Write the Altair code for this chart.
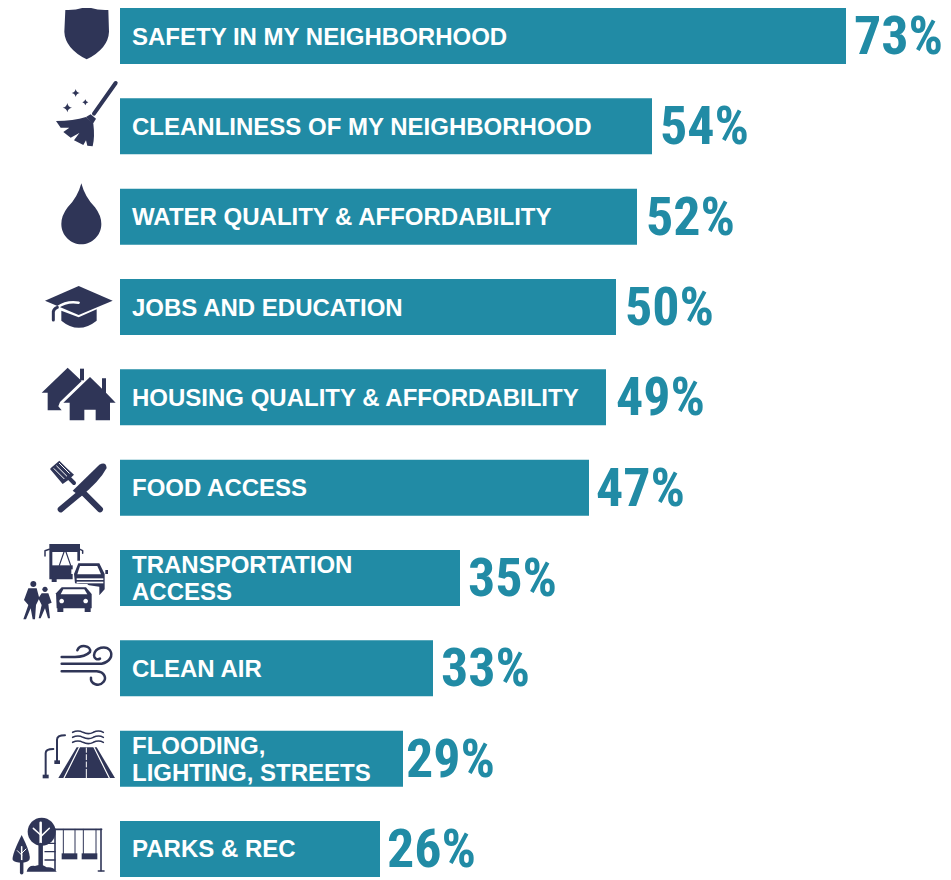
import re
import altair as alt
import pandas as pd

# Row text and readings
categories = ["SAFETY IN MY NEIGHBORHOOD", "CLEANLINESS OF MY NEIGHBORHOOD", "WATER QUALITY & AFFORDABILITY",
              "JOBS AND EDUCATION", "HOUSING QUALITY & AFFORDABILITY", "FOOD ACCESS",
              "TRANSPORTATION\nACCESS", "CLEAN AIR", "FLOODING,\nLIGHTING, STREETS", "PARKS & REC"]
bar_values = [72.6, 53.2, 51.7, 49.6, 48.6, 46.9, 34.0, 31.3, 28.3, 26.0]
value_labels = ["73%", "54%", "52%", "50%", "49%", "47%", "35%", "33%", "29%", "26%"]
label_anchor = [73.4, 54.0, 52.6, 50.5, 49.6, 47.6, 34.8, 32.1, 28.6, 26.7]

NAVY = "#2f3557"
TEAL = "#218ba5"
WHITE = "#ffffff"
ICON_X = -4.0       # icon anchor on the x scale


def shift(path, ox, oy):
    nums = iter([0, 1] * 5000)
    def rep(m):
        return f"{float(m.group()) - (ox if next(nums) == 0 else oy):.1f}"
    return re.sub(r"-?\d+(?:\.\d+)?", rep, path)


def star(cx, cy, r):
    return (f"M{cx} {cy-r} Q{cx+2} {cy-2} {cx+r} {cy} Q{cx+2} {cy+2} {cx} {cy+r} "
            f"Q{cx-2} {cy+2} {cx-r} {cy} Q{cx-2} {cy-2} {cx} {cy-r} Z")


def circle(cx, cy, r):
    k = 0.552 * r
    return (f"M{cx-r} {cy} C{cx-r} {cy-k} {cx-k} {cy-r} {cx} {cy-r} C{cx+k} {cy-r} {cx+r} {cy-k} {cx+r} {cy} "
            f"C{cx+r} {cy+k} {cx+k} {cy+r} {cx} {cy+r} C{cx-k} {cy+r} {cx-r} {cy+k} {cx-r} {cy} Z")


def rect(x0, y0, x1, y1):
    return f"M{x0} {y0} L{x1} {y0} L{x1} {y1} L{x0} {y1} Z"


# Icon glyph outlines, in a 3x drawing grid: (row, grid centre y, path, fill, stroke, stroke width)
F = lambda p: (p, NAVY, "transparent", 0)
W = lambda p: (p, WHITE, "transparent", 0)
S = lambda p, w=2.5: (p, "transparent", NAVY, w)
SW = lambda p, w=2.5: (p, "transparent", WHITE, w)

icons = {
    (0, 108): [F("M196 30 Q235 32 260 18 Q285 32 325 30 L327 95 Q325 145 260 178 Q195 145 193 95 Z")],
    (1, 378): [
        S("M282 340 L347 248", 4),
        F("M258 350 L272 342 L288 355 L278 372 Z"),
        F("M168 362 Q220 362 258 350 L280 370 Q285 410 278 438 L262 436 L258 420 L250 434 L222 420 L238 398 L212 412 L190 395 L208 382 L182 382 Z"),
        F(star(227, 278, 12)), F(star(256, 306, 9)), F(star(202, 322, 14)),
    ],
    (2, 648): [F("M244 548 Q255 590 285 620 Q304 645 304 670 C304 705 275 731 244 731 C213 731 184 705 184 670 Q184 645 203 620 Q233 590 244 548 Z")],
    (3, 111): [
        F("M184 122 L236 142 L290 118 L290 152 Q236 195 184 152 Z"),
        F("M236 48 L338 92 L236 135 L135 92 Z"),
        SW("M172 112 Q200 92 236 98", 2.5),
        S("M160 150 L160 125 Q162 115 172 112", 3),
    ],
    (4, 381): [
        F("M203 292 L245 332 L180 395 L175 408 L185 420 L143 420 L143 367 L125 367 Z"),
        F(rect(240, 295, 252, 330)),
        F("M270 320 L306 355 L306 324 L318 324 L318 367 L347 397 L330 397 L330 450 L287 450 L287 418 L253 418 L253 450 L209 450 L209 397 L190 397 Z"),
    ],
    (5, 651): [
        S("M252 668 L300 716", 6),
        F("M218 660 L298 582 Q318 572 320 592 Q300 630 242 678 Z"),
        S("M235 672 L182 716", 6),
        S("M200 615 L222 637", 4),
        F("M188 640 L150 595 L155 590 L178 570 L200 592 L222 612 L205 628 Z"),
        SW("M162 594 L192 624", 1), SW("M170 586 L200 616", 1), SW("M178 578 L208 608", 1),
    ],
    (6, 144): [
        F(rect(148, 42, 240, 148)), F(rect(155, 145, 170, 156)),
        W(rect(157, 66, 232, 106)), S("M192 66 L178 106", 1.2), S("M198 66 L212 106", 1.2),
        F(rect(157, 112, 232, 145)), W(rect(214, 118, 226, 132)),
        S("M148 58 L135 62 L135 78", 1.5), S("M240 58 L248 62 L248 70", 1.5),
        W("M218 92 L305 92 L326 135 L326 190 L218 170 Z"),
        F("M222 132 L235 100 L298 100 L314 132 L314 178 L298 196 L298 170 L225 160 Z"),
        W("M240 108 L292 108 L303 133 L232 133 Z"), W(rect(230, 145, 310, 150)), W(rect(230, 155, 310, 160)),
        F(rect(316, 120, 324, 132)),
        W("M160 180 L182 162 L262 162 L285 188 L285 250 L160 250 Z"),
        F("M168 190 L185 172 L258 172 L275 192 L275 235 L170 235 Z"),
        F(rect(172, 232, 190, 246)), F(rect(254, 232, 272, 246)),
        W("M190 178 L253 178 L262 193 L182 193 Z"), W(circle(185, 213, 7)), W(circle(257, 213, 7)),
        F(circle(100, 162, 9)),
        F("M85 175 L110 175 L118 205 L108 225 L105 268 L98 268 L92 235 L78 268 L70 268 L85 225 L72 210 Z"),
        F(circle(135, 178, 8)),
        F("M125 190 L145 190 L155 218 L145 222 L150 265 L144 265 L135 235 L122 265 L116 265 L125 225 L115 205 Z"),
    ],
    (7, 414): [
        S("M185 380 L225 380 Q255 380 270 365 C275 345 240 340 232 360"),
        S("M185 400 L305 400 C330 395 340 375 330 360 C318 345 285 350 282 375 C282 385 292 390 300 385"),
        S("M185 423 L290 423 C315 425 320 445 310 455 C298 470 270 462 273 442"),
    ],
    (8, 687): [
        F("M230 653 L290 653 L345 745 L175 745 Z"),
        SW("M238 653 L192 745", 1.2), SW("M282 653 L328 745", 1.2),
        SW("M259 655 L259 668", 1), SW("M259 675 L259 690", 1), SW("M259 697 L259 712", 1), SW("M259 719 L259 745", 1),
        S("M218 608 Q234 600 249 608 Q265 616 280 608 Q296 600 310 608", 1.6),
        S("M218 623 Q234 615 249 623 Q265 631 280 623 Q296 615 310 623", 1.6),
        S("M218 638 Q234 630 249 638 Q265 646 280 638 Q296 630 310 638", 1.6),
        S("M171 695 L171 630 Q171 617 195 617", 2), F(rect(163, 692, 180, 703)),
        S("M137 738 L137 670 Q137 658 160 658", 2), F(rect(128, 735, 146, 746)),
    ],
    (9, 957): [
        F(circle(125, 905, 42)),
        SW("M122 945 L122 878", 2.5), SW("M122 915 L100 895", 1.5), SW("M122 920 L148 895", 1.5),
        S("M122 945 L122 1010", 4.5),
        F("M65 915 Q95 975 88 990 Q80 998 65 998 Q45 998 38 990 Q35 975 65 915 Z"),
        SW("M65 990 L65 950", 1.5), SW("M65 975 L52 962", 1), SW("M65 970 L78 957", 1),
        S("M65 995 L65 1028", 3.5),
        F("M80 1025 Q85 1005 105 1008 Q125 1000 140 1012 Q160 1010 170 1025 Z"),
        S("M165 898 L165 1020", 1.6), S("M135 940 L165 940", 1.4), S("M135 965 L165 965", 1.4),
        S("M135 990 L165 990", 1.4),
        S("M165 898 L305 898", 1.6), S("M303 898 L303 1022", 1.6), S("M295 1023 L312 1023", 1.6),
        S("M190 898 L190 972", 1), S("M225 898 L225 972", 1), S("M250 898 L250 972", 1), S("M288 898 L288 972", 1),
        F(rect(185, 970, 232, 988)), F(rect(245, 970, 292, 988)),
    ],
}

icon_rows = []
for (row, cy), parts in icons.items():
    for p, fill, stroke, sw in parts:
        icon_rows.append({"cat": categories[row], "shape": shift(p, 240, cy), "fill": fill,
                          "stroke": stroke, "sw": sw, "x": ICON_X, "n": len(icon_rows)})

df = pd.DataFrame({"cat": categories, "v": bar_values, "label": value_labels, "lx": label_anchor, "textx": [1.2] * 10})
df["first"] = [c.split("\n")[0] for c in categories]
df["second"] = [c.split("\n")[1] if "\n" in c else "" for c in categories]
df["two"] = ["\n" in c for c in categories]
icon_df = pd.DataFrame(icon_rows)

xscale = alt.Scale(domain=[-11.2, 82.3], range=[0, 935], nice=False, zero=False)
x = alt.X("v:Q", axis=None, scale=xscale)
y = alt.Y("cat:N", axis=None, sort=categories,
          scale=alt.Scale(domain=categories, range=[0, 869], paddingInner=0.38, paddingOuter=0, round=False))
tx = alt.X("textx:Q", axis=None, scale=xscale)
base = alt.Chart(df)
name_style = dict(color="white", font="Liberation Sans", fontWeight="bold", fontSize=24, align="left", baseline="middle")

bars = base.mark_bar(color=TEAL, cornerRadius=0).encode(x=x, x2=alt.value(112), y=y)
names_one = base.transform_filter("!datum.two").mark_text(dy=1.5, **name_style).encode(x=tx, y=y, text="first:N")
names_top = base.transform_filter("datum.two").mark_text(dy=-12, **name_style).encode(x=tx, y=y, text="first:N")
names_bot = base.transform_filter("datum.two").mark_text(dy=15, **name_style).encode(x=tx, y=y, text="second:N")
vals = base.mark_text(color=TEAL, font="Roboto Condensed", fontWeight="bold", fontSize=54, align="left",
                      baseline="middle", dy=2).encode(
    x=alt.X("lx:Q", axis=None, scale=xscale), y=y, text="label:N")
icon_layer = alt.Chart(icon_df).mark_point(filled=True, size=4 / 9, opacity=1, strokeCap="round",
                                           strokeJoin="round").encode(
    x=alt.X("x:Q", axis=None, scale=xscale), y=y,
    shape=alt.Shape("shape:N", scale=None),
    fill=alt.Fill("fill:N", scale=None),
    stroke=alt.Stroke("stroke:N", scale=None),
    strokeWidth=alt.StrokeWidth("sw:Q", scale=None),
    order=alt.Order("n:Q"),
)

chart = alt.layer(bars, names_one, names_top, names_bot, vals, icon_layer).properties(
    width=935, height=872, padding=0, autosize="none", background="white"
).configure_view(stroke=None)
chart.save("out.html", embed_options={"renderer": "svg", "actions": False})
